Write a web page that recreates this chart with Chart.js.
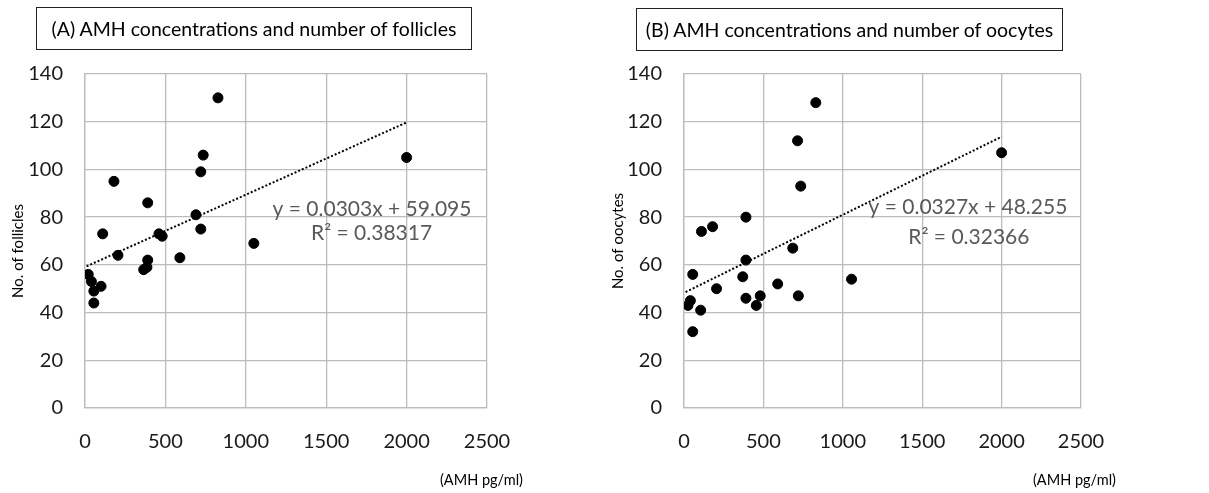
<!DOCTYPE html>
<html>
<head>
<meta charset="utf-8">
<script src="https://cdn.jsdelivr.net/npm/chart.js@4/dist/chart.umd.min.js"></script>
<style>
  body { margin: 0; background: #fff; font-family: Lato, "Open Sans", sans-serif; }
  #wrap { position: relative; width: 1209px; height: 493px; overflow: hidden; }
  canvas { position: absolute; top: 0; }
  .box { position: absolute; border: 1.5px solid #222; box-sizing: border-box; font-size: 19.5px; color: #000; display: flex; align-items: center; justify-content: center; }
  .unit { position: absolute; font-size: 14.5px; color: #000; }
</style>
</head>
<body>
<div id="wrap">
  <canvas id="chartA" width="600" height="493" style="left:0"></canvas>
  <canvas id="chartB" width="609" height="493" style="left:600px"></canvas>
  <div class="box" style="left:36px;top:7px;width:436px;height:43px">(A) AMH concentrations and number of follicles</div>
  <div class="box" style="left:636px;top:8px;width:427px;height:43px">(B) AMH concentrations and number of oocytes</div>
  <div class="unit" style="left:440px;top:471px">(AMH pg/ml)</div>
  <div class="unit" style="left:1033px;top:471px">(AMH pg/ml)</div>
</div>
<script>
// (A) AMH vs follicles
const amhA = [20, 40, 55, 55, 100, 110, 180, 205, 365, 385, 390, 390, 460, 480, 590, 690, 720, 720, 735, 827, 1050, 2000];
const folliclesA = [56, 53, 49, 44, 51, 73, 95, 64, 58, 59, 62, 86, 73, 72, 63, 81, 99, 75, 106, 130, 69, 105];
const trendXA = [10, 2000];
const trendYA = [59.4, 119.7];

// (B) AMH vs oocytes
const amhB = [25, 40, 55, 55, 105, 110, 180, 205, 370, 390, 390, 390, 455, 480, 590, 685, 715, 720, 735, 830, 1055, 2000];
const oocytesB = [43, 45, 56, 32, 41, 74, 76, 50, 55, 62, 80, 46, 43, 47, 52, 67, 112, 47, 93, 128, 54, 107];
const trendXB = [10, 2000];
const trendYB = [48.6, 113.7];

const xTicks = [0, 500, 1000, 1500, 2000, 2500];
const yTicks = [0, 20, 40, 60, 80, 100, 120, 140];

const gridColor = "#bcbcbc";
const textColor = "#1a1a1a";

// equation text + rotated y title
const extraText = {
  id: "extraText",
  afterDatasetsDraw(chart, args, opts) {
    const { ctx, scales } = chart;
    ctx.save();
    ctx.fillStyle = "#595959";
    ctx.font = "21px Lato";
    ctx.textAlign = "center";
    ctx.textBaseline = "middle";
    opts.lines.forEach(l => {
      ctx.fillText(l.text, scales.x.getPixelForValue(l.x), scales.y.getPixelForValue(l.y));
    });
    ctx.translate(18, opts.titleY);
    ctx.rotate(-Math.PI / 2);
    ctx.fillStyle = "#000";
    ctx.font = "15px Lato";
    ctx.fillText(opts.title, 0, 0);
    ctx.restore();
  }
};

function pts(xs, ys) {
  return xs.map((x, i) => ({ x, y: ys[i] }));
}

function makeChart(id, xs, ys, tx, ty, yTitle, titleY, lines, yWidth, padRight) {
  return new Chart(document.getElementById(id), {
    type: "scatter",
    data: {
      datasets: [
        {
          data: pts(xs, ys),
          backgroundColor: "#000",
          borderColor: "#000",
          pointRadius: 5,
          pointHoverRadius: 5
        },
        {
          type: "line",
          data: pts(tx, ty),
          borderColor: "#000",
          borderWidth: 2,
          borderDash: [2, 2],
          pointRadius: 0,
          fill: false
        }
      ]
    },
    options: {
      responsive: false,
      animation: false,
      layout: { padding: { top: 74, left: 0, right: padRight, bottom: 0 } },
      plugins: {
        legend: { display: false },
        tooltip: { enabled: false },
        extraText: { lines, title: yTitle, titleY }
      },
      scales: {
        x: {
          type: "linear",
          min: 0,
          max: 2500,
          afterBuildTicks: s => { s.ticks = xTicks.map(v => ({ value: v })); },
          afterFit: s => { s.height = 85; },
          grid: { color: gridColor, lineWidth: 1.3, drawTicks: false },
          border: { color: gridColor, width: 1.3 },
          ticks: { color: textColor, font: { family: "Lato", size: 20 }, padding: 22, maxRotation: 0, callback: v => String(v) }
        },
        y: {
          min: 0,
          max: 140,
          afterBuildTicks: s => { s.ticks = yTicks.map(v => ({ value: v })); },
          afterFit: s => { s.width = yWidth; },
          grid: { color: gridColor, lineWidth: 1.3, drawTicks: false },
          border: { color: gridColor, width: 1.3 },
          ticks: { color: textColor, font: { family: "Lato", size: 20 }, padding: 22 }
        }
      }
    },
    plugins: [extraText]
  });
}

makeChart("chartA", amhA, folliclesA, trendXA, trendYA, "No. of follicles", 251,
  [{ text: "y = 0.0303x + 59.095", x: 1785, y: 83.5 }, { text: "R² = 0.38317", x: 1782, y: 73.4 }],
  85, 113);

makeChart("chartB", amhB, oocytesB, trendXB, trendYB, "No. of oocytes", 241,
  [{ text: "y = 0.0327x + 48.255", x: 1788, y: 84.2 }, { text: "R² = 0.32366", x: 1794, y: 71.7 }],
  84, 128);
</script>
</body>
</html>
